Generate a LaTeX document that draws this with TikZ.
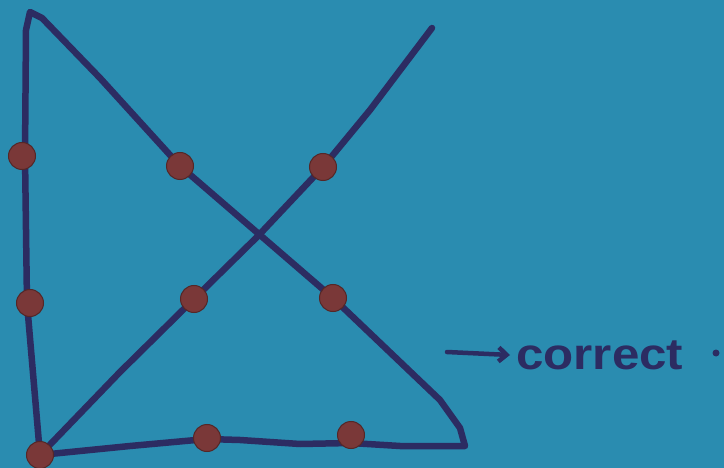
\documentclass[tikz,border=0pt]{standalone}
\usepackage{fontspec}
\setmainfont{Liberation Sans}
\usetikzlibrary{arrows.meta}
\definecolor{bg}{HTML}{2A8CB0}
\definecolor{ink}{HTML}{2C2C62}
\definecolor{dotred}{HTML}{7A3838}
\tikzset{
  pen/.style={draw=ink,line width=6.5pt,line join=round,line cap=round},
  dotnode/.style={circle,fill=dotred,draw=dotred!70!black,line width=1pt,minimum size=27pt,inner sep=0pt},
  label/.style={text=ink,font=\bfseries\fontsize{44}{50}\selectfont,inner sep=0pt,xscale=1.12},
}
\begin{document}
\begin{tikzpicture}[x=1pt,y=-1pt]
\fill[bg] (0,0) rectangle (724,468);
\useasboundingbox (0,0) rectangle (724,468);
% dot positions
\coordinate (p11) at (22,156);
\coordinate (p12) at (180,166);
\coordinate (p13) at (323,167);
\coordinate (p21) at (30,303);
\coordinate (p22) at (194,299);
\coordinate (p23) at (333,298);
\coordinate (p31) at (40,455);
\coordinate (p32) at (207,438);
\coordinate (p33) at (351,435);
% path corners
\coordinate (top) at (30,12);
\coordinate (topr) at (432,28);
\coordinate (brc) at (465,446);
% strokes
\draw[pen] (p31) -- (27,303) -- (25,156) -- (26,30) -- (top) -- (42,18) -- (100,78) -- (p12) -- (260,235) -- (p23) -- (440,400) -- (460,428) -- (brc)
  -- (400,446) -- (351,443) -- (300,444) -- (240,440) -- (207,439) -- (130,446) -- (p31);
\draw[pen] (p31) -- (120,372) -- (p22) -- (258,236) -- (p13) -- (370,110) -- (topr);
% dots
\foreach \n in {11,12,13,21,22,23,31,32,33} \node[dotnode] (d\n) at (p\n) {};
% label
\node[label,anchor=west] (word) at (516,355) {correct};
\coordinate (arrstart) at (447,352);
\draw[pen,line width=4.5pt,-{Straight Barb[length=8pt,width=14pt]}] (arrstart) -- ([xshift=-6pt]word.west);
\node[circle,fill=ink,minimum size=7pt,inner sep=0pt] (enddot) at (716,353) {};
\end{tikzpicture}
\end{document}
